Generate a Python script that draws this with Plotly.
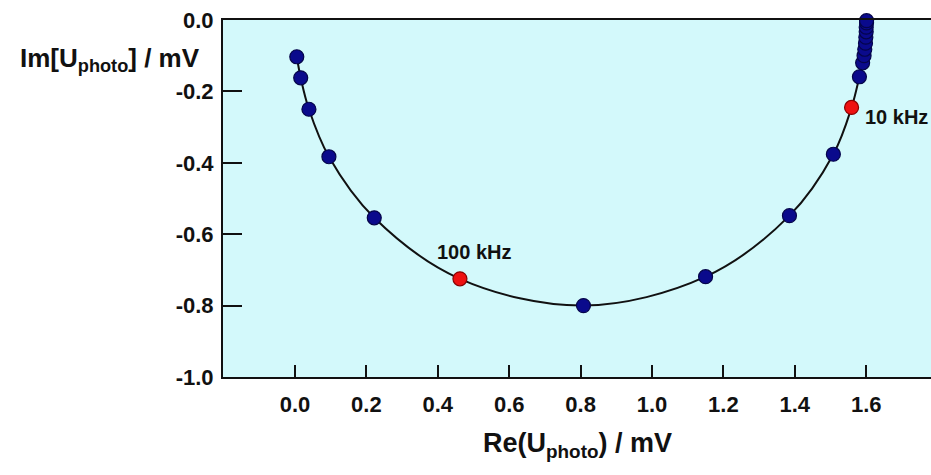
import plotly.graph_objects as go

# Nyquist data, in path order (high frequency at left -> low frequency at top right)
re_vals = [0.005, 0.016, 0.039, 0.095, 0.222, 0.462, 0.808, 1.150, 1.385, 1.508,
           1.559, 1.581, 1.590, 1.594, 1.596, 1.598, 1.599, 1.600, 1.600, 1.601, 1.601]
im_vals = [-0.103, -0.162, -0.250, -0.383, -0.554, -0.725, -0.800, -0.719, -0.548, -0.376,
           -0.245, -0.159, -0.120, -0.100, -0.082, -0.065, -0.048, -0.033, -0.020, -0.008, -0.002]
freq_labels = ["", "", "", "", "", "100 kHz", "", "", "", "",
               "10 kHz", "", "", "", "", "", "", "", "", "", ""]

x_ticks = [0.0, 0.2, 0.4, 0.6, 0.8, 1.0, 1.2, 1.4, 1.6]
y_ticks = [0.0, -0.2, -0.4, -0.6, -0.8, -1.0]

NAVY = "#0a0a8c"
NAVY_EDGE = "#05054a"
RED = "#ee1111"
RED_EDGE = "#8a0000"
FONT = "Liberation Sans"

fig = go.Figure()

# fitted curve
fig.add_trace(go.Scatter(x=re_vals, y=im_vals, mode="lines",
                         line=dict(color="#111111", width=2, shape="spline", smoothing=1.0),
                         hoverinfo="skip", showlegend=False, cliponaxis=False))

# measured points
colors = [RED if lab else NAVY for lab in freq_labels]
edges = [RED_EDGE if lab else NAVY_EDGE for lab in freq_labels]
order = sorted(range(len(re_vals)), key=lambda i: 1 if freq_labels[i] else 0)
fig.add_trace(go.Scatter(x=[re_vals[i] for i in order], y=[im_vals[i] for i in order],
                         mode="markers",
                         marker=dict(size=14, color=[colors[i] for i in order],
                                     line=dict(color=[edges[i] for i in order], width=1.2)),
                         showlegend=False, cliponaxis=False))

# frequency labels
for xv, yv, lab in zip(re_vals, im_vals, freq_labels):
    if lab == "100 kHz":
        fig.add_annotation(x=xv, y=yv, text="<b>" + lab + "</b>", showarrow=False,
                           xshift=15, yshift=27, font=dict(family=FONT, size=20, color="#111111"))
    elif lab == "10 kHz":
        fig.add_annotation(x=xv, y=yv, text="<b>" + lab + "</b>", showarrow=False,
                           xanchor="left", xshift=11, yshift=-10,
                           font=dict(family=FONT, size=20, color="#111111"))

# axis titles
fig.add_annotation(xref="paper", yref="paper", x=-0.029, y=0.89, xanchor="right", yanchor="middle",
                   text="<b>Im[U<sub>photo</sub>] / mV</b>", showarrow=False,
                   font=dict(family=FONT, size=26, color="#111111"))
fig.add_annotation(xref="paper", yref="paper", x=0.5, y=-0.19, xanchor="center", yanchor="middle",
                   text="<b>Re(U<sub>photo</sub>) / mV</b>", showarrow=False,
                   font=dict(family=FONT, size=27, color="#111111"))

fig.update_xaxes(range=[-0.2017, 1.7815], tickvals=x_ticks,
                 ticktext=[f"<b>{v:.1f}</b>" for v in x_ticks],
                 ticks="inside", ticklen=12, tickwidth=2, tickcolor="#111111",
                 showline=True, linewidth=2, linecolor="#111111", mirror=True,
                 showgrid=False, zeroline=False, ticklabelstandoff=7,
                 tickfont=dict(family=FONT, size=22, color="#111111"))
fig.update_yaxes(range=[-1.0, 0.0], tickvals=y_ticks,
                 ticktext=[f"<b>{v:.1f}</b>" for v in y_ticks],
                 ticks="inside", ticklen=19, tickwidth=2, tickcolor="#111111",
                 showline=True, linewidth=2, linecolor="#111111",
                 showgrid=False, zeroline=False, ticklabelstandoff=3,
                 tickfont=dict(family=FONT, size=22, color="#111111"))

fig.update_layout(width=931, height=475, margin=dict(l=223, r=0, t=20, b=98, autoexpand=False),
                  plot_bgcolor="#d3f9fb", paper_bgcolor="white")

fig.write_html("out.html", config={"displayModeBar": False},
               post_script="document.body.style.margin='0px';")
